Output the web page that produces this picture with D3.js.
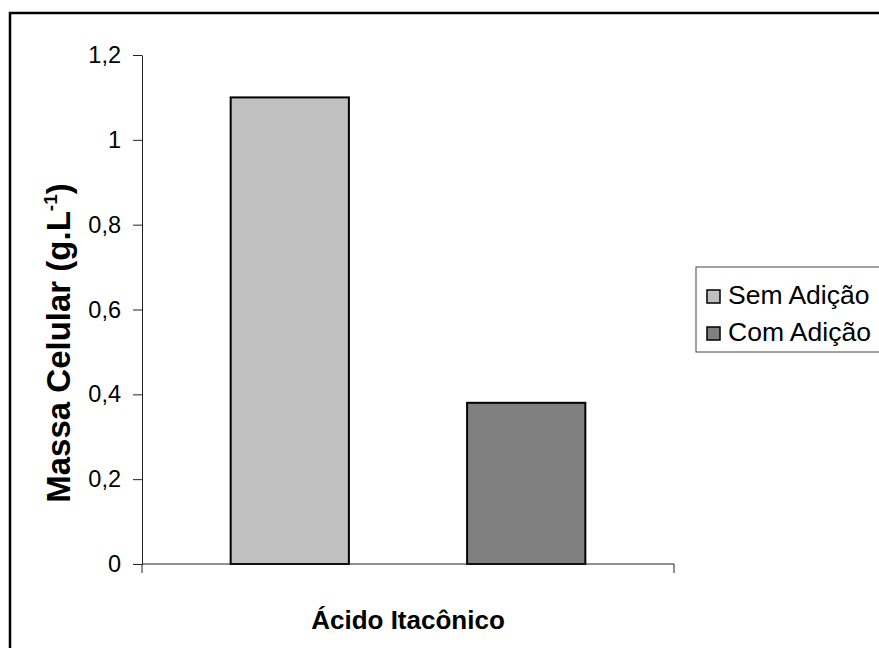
<!DOCTYPE html>
<html>
<head>
<meta charset="utf-8">
<script src="https://cdn.jsdelivr.net/npm/d3@7"></script>
<style>
  body { margin: 0; background: #ffffff; }
  svg { display: block; font-family: "Liberation Sans", Arial, sans-serif; }
</style>
</head>
<body>
<div id="chart"></div>
<script>
// data
var categories = ['Ácido Itacônico'];
var series = ['Sem Adição', 'Com Adição'];
var values = [1.10, 0.38];
var y_ticks = [0, 0.2, 0.4, 0.6, 0.8, 1, 1.2];
var colors = ['#c0c0c0', '#808080'];

var width = 879;
var height = 648;

var plot_left = 142, plot_right = 674;
var plot_top = 55, plot_bottom = 564;

var svg = d3.select('#chart')
  .append('svg')
    .attr('width', width)
    .attr('height', height);

// outer frame (cut off at right and bottom)
svg.append('rect')
    .attr('x', 10)
    .attr('y', 13)
    .attr('width', 1000)
    .attr('height', 1000)
    .attr('fill', 'none')
    .attr('stroke', '#000')
    .attr('stroke-width', 2.5);

var y = d3.scaleLinear()
    .domain([0, 1.2])
    .range([plot_bottom, plot_top]);

var x0 = d3.scaleBand()
    .domain(categories)
    .range([plot_left, plot_right])
    .paddingInner(0)
    .paddingOuter(0.25);

var x1 = d3.scaleBand()
    .domain(series)
    .range([0, x0.bandwidth()])
    .paddingInner(0.5);

var comma = function(d) { return String(d).replace('.', ','); };

// bars
svg.append('g')
    .selectAll('rect.bar')
    .data(series)
  .enter()
    .append('rect')
    .attr('class', 'bar')
    .attr('x', function(d) { return x0(categories[0]) + x1(d); })
    .attr('y', function(d, i) { return y(values[i]); })
    .attr('width', x1.bandwidth())
    .attr('height', function(d, i) { return y(0) - y(values[i]); })
    .attr('fill', function(d, i) { return colors[i]; })
    .attr('stroke', '#000')
    .attr('stroke-width', 2);

// y axis
var y_axis = svg.append('g')
    .attr('transform', 'translate(' + plot_left + ',0)')
    .call(d3.axisLeft(y)
        .tickValues(y_ticks)
        .tickFormat(comma)
        .tickSize(9)
        .tickSizeOuter(0)
        .tickPadding(12));
y_axis.selectAll('text')
    .attr('font-size', '23.5px')
    .attr('font-family', '"Liberation Sans", Arial, sans-serif')
    .attr('fill', '#000');
y_axis.selectAll('line, path').attr('stroke', '#222');

// x axis line and boundary ticks
var x_range = x0.range();
var x_axis = svg.append('g');
x_axis.append('line')
    .attr('x1', x_range[0]).attr('x2', x_range[1])
    .attr('y1', y(0)).attr('y2', y(0))
    .attr('stroke', '#222');
x_axis.selectAll('line.xtick')
    .data(x_range)
  .enter()
    .append('line')
    .attr('class', 'xtick')
    .attr('x1', function(d) { return d; })
    .attr('x2', function(d) { return d; })
    .attr('y1', y(0))
    .attr('y2', y(0) + 9)
    .attr('stroke', '#222');

// x axis label
svg.append('text')
    .attr('x', (x_range[0] + x_range[1]) / 2)
    .attr('y', 629)
    .attr('text-anchor', 'middle')
    .attr('font-size', '26px')
    .attr('font-weight', 'bold')
    .text(categories[0]);

// y axis label
var y_label = svg.append('text')
    .attr('transform', 'translate(70,343) rotate(-90)')
    .attr('text-anchor', 'middle')
    .attr('font-size', '33px')
    .attr('font-weight', 'bold');
y_label.append('tspan').text('Massa Celular (g.L');
y_label.append('tspan')
    .attr('font-size', '19px')
    .attr('dy', '-13')
    .text('-1');
y_label.append('tspan')
    .attr('dy', '13')
    .text(')');

// legend
var legend = svg.append('g');
legend.append('rect')
    .attr('x', 696)
    .attr('y', 267)
    .attr('width', 300)
    .attr('height', 85)
    .attr('fill', '#fff')
    .attr('stroke', '#444')
    .attr('stroke-width', 1);

legend.selectAll('rect.swatch')
    .data(series)
  .enter()
    .append('rect')
    .attr('class', 'swatch')
    .attr('x', 707)
    .attr('y', function(d, i) { return 290 + i * 37; })
    .attr('width', 13)
    .attr('height', 13)
    .attr('fill', function(d, i) { return colors[i]; })
    .attr('stroke', '#000')
    .attr('stroke-width', 1.5);

legend.selectAll('text.legend')
    .data(series)
  .enter()
    .append('text')
    .attr('class', 'legend')
    .attr('x', 728)
    .attr('y', function(d, i) { return 304 + i * 37; })
    .attr('font-size', '26.5px')
    .text(function(d) { return d; });
</script>
</body>
</html>
